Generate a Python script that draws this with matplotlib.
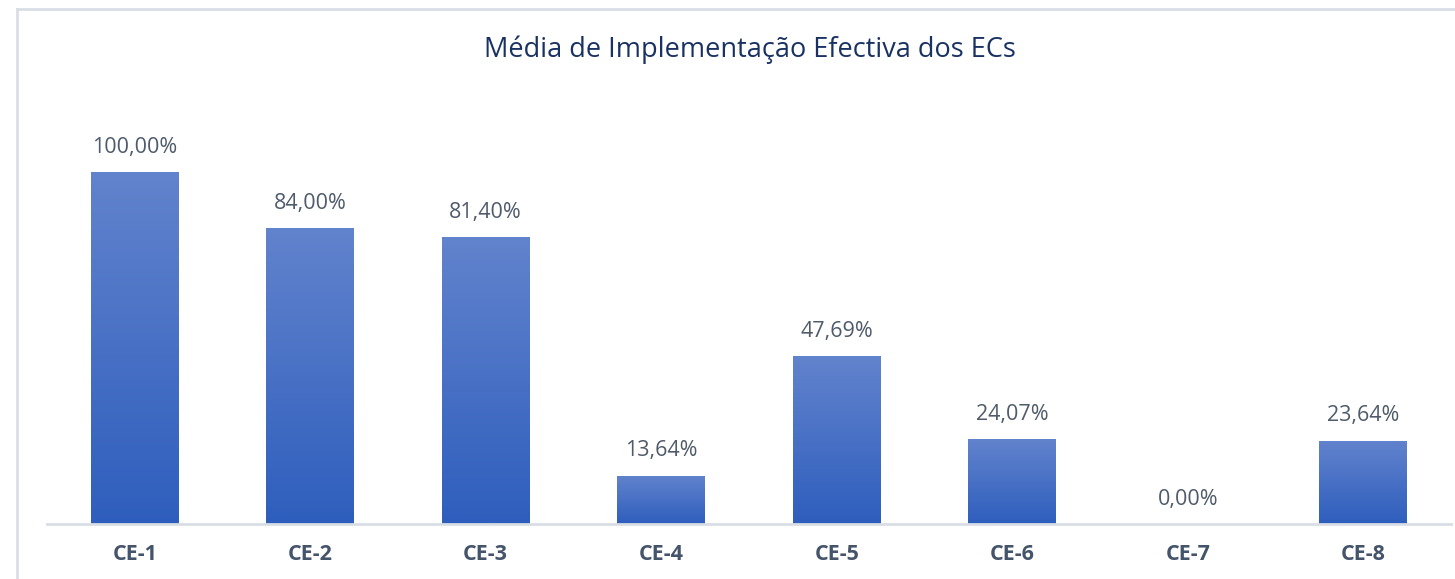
import matplotlib
matplotlib.use("Agg")
import matplotlib.pyplot as plt
import numpy as np
from matplotlib.colors import LinearSegmentedColormap
from matplotlib.lines import Line2D

categories = ["CE-1", "CE-2", "CE-3", "CE-4", "CE-5", "CE-6", "CE-7", "CE-8"]
values = [100.00, 84.00, 81.40, 13.64, 47.69, 24.07, 0.00, 23.64]
labels = ["100,00%", "84,00%", "81,40%", "13,64%", "47,69%", "24,07%", "0,00%", "23,64%"]
title = "Média de Implementação Efectiva dos ECs"

W, H = 1455, 579
fig = plt.figure(figsize=(W / 100, H / 100), dpi=100)
fig.patch.set_facecolor("white")

# chart border (top and left visible)
border_c = "#D9DEE6"
fig.add_artist(Line2D([17 / W, 1], [1 - 9 / H, 1 - 9 / H], color=border_c, lw=2, transform=fig.transFigure))
fig.add_artist(Line2D([17 / W, 17 / W], [0, 1 - 9 / H], color=border_c, lw=2, transform=fig.transFigure))

base_y = 524
top100 = 172
ymax = 120
px_per = (base_y - top100) / 100
ax_top = base_y - ymax * px_per
ax = fig.add_axes([47 / W, 1 - base_y / H, (1451 - 47) / W, (base_y - ax_top) / H])
ax.set_xlim(-0.5, len(categories) - 0.5)
ax.set_ylim(0, ymax)
ax.axis("off")

x = np.arange(len(categories))
bars = ax.bar(x, values, width=0.5, color="none", edgecolor="none", zorder=2)

cmap = LinearSegmentedColormap.from_list("g", ["#2E5EBD", "#6283CD"])
grad = np.linspace(0, 1, 256).reshape(-1, 1)
for b in bars:
    h = b.get_height()
    if h <= 0:
        continue
    x0 = b.get_x()
    im = ax.imshow(grad, cmap=cmap, aspect="auto", origin="lower",
                   extent=[x0, x0 + b.get_width(), 0, h], zorder=2)
    im.set_clip_path(b)

ax.set_xlim(-0.5, len(categories) - 0.5)
ax.set_ylim(0, ymax)

# baseline
ax.plot([-0.5, len(categories) - 0.5], [0, 0], color="#D9DEE6", lw=2, zorder=3, clip_on=False)

fam = ["Open Sans", "DejaVu Sans"]
for xi, v, lab in zip(x, values, labels):
    ax.annotate(lab, (xi, v), xytext=(0, 25), textcoords="offset pixels",
                ha="center", va="center", fontsize=15.5, color="#4F5B6B", family=fam)
    ax.annotate(categories[xi], (xi, 0), xytext=(0, -31), textcoords="offset pixels",
                ha="center", va="center", fontsize=15.5, color="#44546A", fontweight="bold", family=fam)

fig.text(750 / W, 1 - 50 / H, title, ha="center", va="center", fontsize=19.5,
         color="#1A3263", family=["Open Sans", "DejaVu Sans"])

fig.savefig("out.png", dpi=100, facecolor="white")
